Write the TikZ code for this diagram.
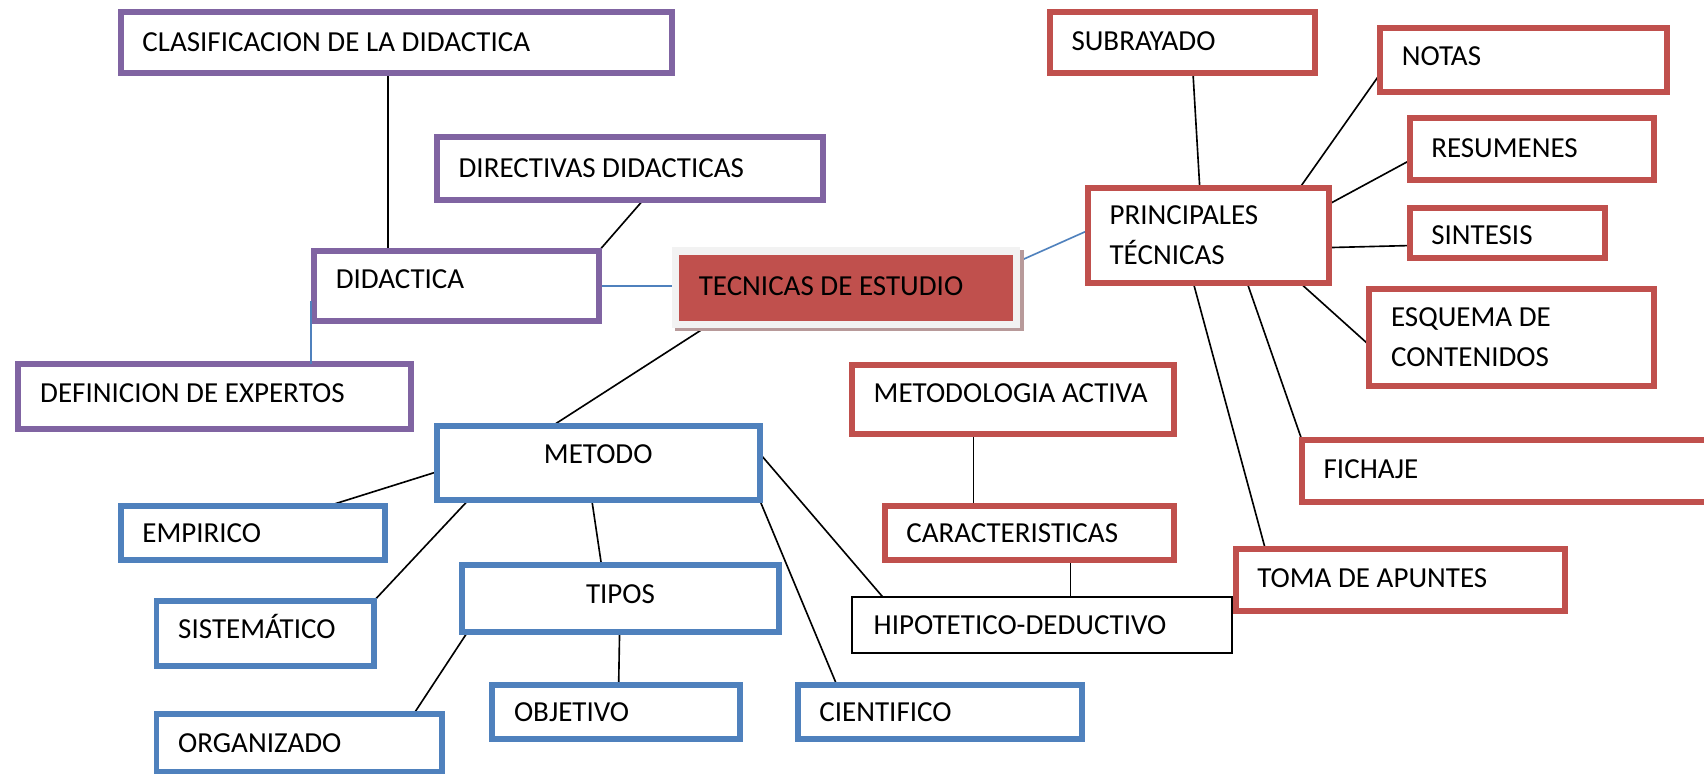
\documentclass[tikz,border=0pt]{standalone}
\usepackage{fontspec}
\setmainfont{Carlito}
\usetikzlibrary{calc}
\definecolor{purp}{HTML}{8064A2}
\definecolor{redb}{HTML}{C0504D}
\definecolor{blueb}{HTML}{4F81BD}
\definecolor{shad}{HTML}{B89A9A}
\definecolor{frameg}{HTML}{F2F2F2}
\pgfdeclarelayer{bg}
\pgfsetlayers{bg,main}
\tikzset{
  box/.style={draw, fill=white, line width=5.5pt, rectangle, inner xsep=20pt, inner ysep=0pt,
    outer sep=0pt, anchor=north west, align=left, font=\fontsize{26.7}{37}\selectfont, text=black,
    execute at begin node={\spaceskip=6.1pt\relax}},
  pbox/.style={box, draw=purp},
  rbox/.style={box, draw=redb},
  bbox/.style={box, draw=blueb},
  conn/.style={line width=1.5pt, draw=black},
  bconn/.style={line width=1.5pt, draw=blueb},
}
\begin{document}
\begin{tikzpicture}[x=1pt,y=-1pt]
\useasboundingbox (0,0) rectangle (1568,712);
\begin{pgfonlayer}{bg}
\fill[white] (0,0) rectangle (1568,712);
\end{pgfonlayer}

% purple boxes
\node[pbox, minimum width=507pt, minimum height=56pt, text width=467pt] (clas) at (111,11) {CLASIFICACION~DE~LA~DIDACTICA};
\node[pbox, minimum width=355pt, minimum height=58pt, text width=315pt] (dir) at (402,126) {DIRECTIVAS~DIDACTICAS};
\node[pbox, minimum width=262pt, minimum height=64pt, text width=222pt, text depth=12pt] (did) at (289,231) {DIDACTICA};
\node[pbox, minimum width=361pt, minimum height=60pt, text width=321pt, text depth=7pt] (def) at (17,335) {DEFINICION~DE~EXPERTOS};

% central box
\node[fill=shad, minimum width=321pt, minimum height=75pt, anchor=north west, inner sep=0pt, outer sep=0pt] (tecs) at (621,230) {};
\node[fill=frameg, minimum width=321pt, minimum height=75pt, anchor=north west, inner sep=0pt, outer sep=0pt] (tecf) at (618,227) {};
\node[fill=redb, minimum width=307pt, minimum height=60pt, anchor=north west, inner xsep=18pt, inner ysep=0pt,
  outer sep=0pt, text width=271pt, align=left, font=\fontsize{26.7}{37}\selectfont, text=black, text depth=3pt,
  execute at begin node={\spaceskip=6.1pt\relax}] (tec) at (625,235) {TECNICAS~DE~ESTUDIO};

% red boxes
\node[rbox, minimum width=244pt, minimum height=56pt, text width=204pt, text depth=3pt] (sub) at (966,11) {SUBRAYADO};
\node[rbox, minimum width=264pt, minimum height=59pt, text width=224pt, text depth=7pt] (notas) at (1270,26) {NOTAS};
\node[rbox, minimum width=225pt, minimum height=57pt, text width=185pt, text depth=3pt] (res) at (1297,109) {RESUMENES};
\node[rbox, minimum width=180pt, minimum height=46pt, text width=140pt, text height=23pt] (sin) at (1297,191) {SINTESIS};
\node[rbox, minimum width=222pt, minimum height=87pt, text width=182pt] (prin) at (1001,173) {PRINCIPALES\\TÉCNICAS};
\node[rbox, minimum width=262pt, minimum height=89pt, text width=222pt] (esq) at (1260,266) {ESQUEMA~DE\\CONTENIDOS};
\node[rbox, minimum width=400pt, minimum height=57pt, text width=360pt, text depth=3pt] (fich) at (1198,405) {FICHAJE};
\node[rbox, minimum width=303pt, minimum height=57pt, text width=263pt, text depth=4pt] (toma) at (1137,505) {TOMA~DE~APUNTES};
\node[rbox, minimum width=296pt, minimum height=63pt, text width=256pt, text depth=11pt] (metact) at (784,336) {METODOLOGIA~ACTIVA};
\node[rbox, minimum width=266pt, minimum height=49pt, text width=226pt] (car) at (814,466) {CARACTERISTICAS};
\node[box, draw=black, line width=2pt, minimum width=350pt, minimum height=52pt, text width=310pt] (hip) at (784,549) {HIPOTETICO-DEDUCTIVO};

% blue boxes
\node[bbox, align=center, minimum width=297pt, minimum height=68pt, text width=257pt, text depth=16pt] (met) at (402,392) {METODO};
\node[bbox, minimum width=243pt, minimum height=49pt, text width=203pt] (emp) at (111,466) {EMPIRICO};
\node[bbox, minimum width=200pt, minimum height=60pt, text width=160pt, text depth=14pt] (sis) at (144,553) {SISTEMÁTICO};
\node[bbox, align=center, minimum width=292pt, minimum height=62pt, text width=252pt, text depth=8pt] (tipos) at (425,520) {TIPOS};
\node[bbox, minimum width=263pt, minimum height=53pt, text width=223pt] (org) at (144,657) {ORGANIZADO};
\node[bbox, minimum width=228pt, minimum height=50pt, text width=188pt] (obj) at (453,630) {OBJETIVO};
\node[bbox, minimum width=262pt, minimum height=50pt, text width=222pt] (cien) at (734,630) {CIENTIFICO};

% connectors
\begin{pgfonlayer}{bg}
\draw[conn] ($(did.north west)!0.26!(did.north east)$) coordinate (c1) -- (c1 |- clas.south);
\draw[conn] ($(dir.south west)!0.535!(dir.south east)$) -- (did.north east);
\draw[bconn] (did.east) -- (did.east -| tec.west);
\draw[conn] ($(tecf.south west)!0.093!(tecf.south east)$) -- ($(met.north west)!0.357!(met.north east)$);
\draw[bconn] ($(tecf.north east)!0.17!(tecf.south east)$) -- ($(prin.north west)!0.45!(prin.south west)$);
\draw[conn] ($(sub.south west)!0.54!(sub.south east)$) -- ($(prin.north west)!0.464!(prin.north east)$);
\draw[conn] ($(notas.north west)!0.71!(notas.south west)$) -- ($(prin.north west)!0.878!(prin.north east)$);
\draw[conn] ($(res.north west)!0.68!(res.south west)$) -- ($(prin.north east)!0.17!(prin.south east)$);
\draw[conn] ($(sin.north west)!0.76!(sin.south west)$) -- ($(prin.north east)!0.63!(prin.south east)$);
\draw[conn] ($(prin.south west)!0.878!(prin.south east)$) -- ($(esq.north west)!0.58!(esq.south west)$);
\draw[conn] ($(prin.south west)!0.66!(prin.south east)$) -- (fich.north west);
\draw[conn] ($(prin.south west)!0.437!(prin.south east)$) -- ($(toma.north west)!0.09!(toma.north east)$);
\draw[conn] ($(metact.south west)!0.378!(metact.south east)$) coordinate (c3) -- (c3 |- car.north);
\draw[conn] ($(car.south west)!0.643!(car.south east)$) coordinate (c4) -- (c4 |- hip.north);
\draw[conn] ($(met.north east)!0.37!(met.south east)$) -- ($(hip.north west)!0.08!(hip.north east)$);
\draw[conn] ($(met.north west)!0.62!(met.south west)$) -- ($(emp.north west)!0.78!(emp.north east)$);
\draw[conn] ($(met.south west)!0.098!(met.south east)$) -- (sis.north east);
\draw[conn] ($(met.south west)!0.48!(met.south east)$) -- ($(tipos.north west)!0.44!(tipos.north east)$);
\draw[conn] (met.south east) -- ($(cien.north west)!0.137!(cien.north east)$);
\draw[conn] ($(tipos.south west)!0.017!(tipos.south east)$) -- ($(org.north west)!0.9!(org.north east)$);
\draw[conn] ($(tipos.south west)!0.497!(tipos.south east)$) -- ($(obj.north west)!0.51!(obj.north east)$);
\end{pgfonlayer}
\draw[bconn] ($(did.north west)!0.72!(did.south west)$) ++(-3,0) coordinate (c2) -- (c2 |- def.north);
\end{tikzpicture}
\end{document}
